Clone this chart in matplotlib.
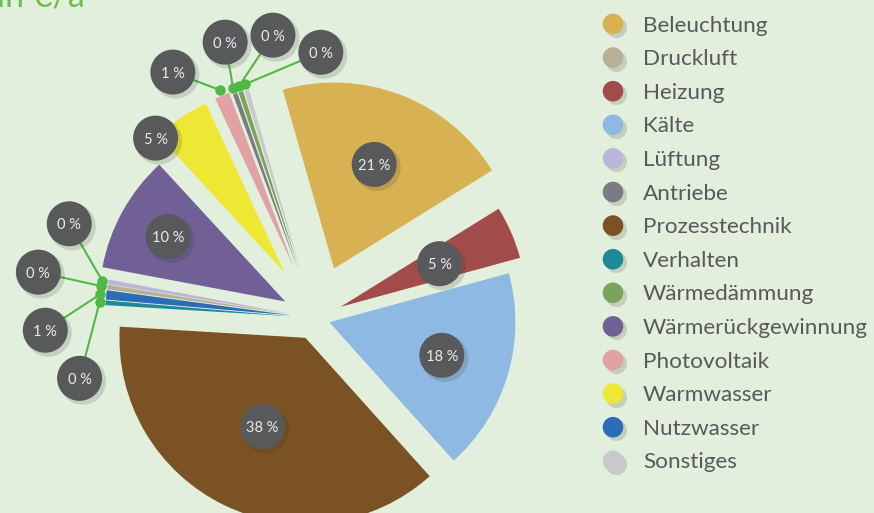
import numpy as np
import matplotlib.pyplot as plt
from matplotlib.patches import Circle

W, H = 874, 513

# legend order
categories = ["Beleuchtung", "Druckluft", "Heizung", "Kälte", "Lüftung", "Antriebe",
              "Prozesstechnik", "Verhalten", "Wärmedämmung", "Wärmerückgewinnung",
              "Photovoltaik", "Warmwasser", "Nutzwasser", "Sonstiges"]
shares = [20.6, 0.4, 4.6, 17.6, 0.4, 0.4, 37.6, 0.4, 0.4, 10.2, 1.3, 4.9, 0.8, 0.4]
colors = ["#d8b152", "#b9b195", "#a14c4b", "#8eb9e3", "#b9b6d9", "#7b7c83",
          "#7b5224", "#1f8a97", "#7aa45b", "#706096", "#e2a1a5", "#eee733",
          "#2b6cb9", "#c9c9cd"]

# order of the slices, clockwise from the top
pie_order = ["Beleuchtung", "Heizung", "Kälte", "Prozesstechnik", "Verhalten",
             "Nutzwasser", "Druckluft", "Lüftung", "Wärmerückgewinnung",
             "Warmwasser", "Photovoltaik", "Antriebe", "Wärmedämmung", "Sonstiges"]

bg = "#e3efdd"
green = "#4fb944"
badge_col = "#58595b"
text_col = "#58595b"

# how far each slice is pulled out (px)
explode_px = {"Beleuchtung": 53, "Heizung": 28, "Kälte": 15, "Prozesstechnik": 22,
              "Verhalten": 24, "Nutzwasser": 24, "Druckluft": 24, "Lüftung": 24,
              "Wärmerückgewinnung": 34, "Warmwasser": 55, "Photovoltaik": 55,
              "Antriebe": 52, "Wärmedämmung": 52, "Sonstiges": 52}
# labels sitting on the slice: radial fraction, angle shift
inside_label = {"Beleuchtung": (0.6, 0), "Heizung": (0.58, 0), "Kälte": (0.63, 0),
                "Prozesstechnik": (0.53, 0), "Wärmerückgewinnung": (0.72, 0),
                "Warmwasser": (1.0, 10)}
# labels outside with a leader line: offset of the badge from the dot (px)
callout_px = {"Photovoltaik": (-47, 18), "Antriebe": (-8, 46), "Wärmedämmung": (34, 51),
              "Sonstiges": (76, 32), "Lüftung": (-33, 57), "Druckluft": (-63, 14),
              "Nutzwasser": (-55, -36), "Verhalten": (-20, -76)}

R = 186.0
cx, cy = 315, 318   # pie centre, px from top left

vals = [shares[categories.index(n)] for n in pie_order]
cols = [colors[categories.index(n)] for n in pie_order]

fig = plt.figure(figsize=(W / 100, H / 100), dpi=100, facecolor=bg)
ax = fig.add_axes([0, 0, 1, 1])
wedges, _ = ax.pie(vals, colors=cols, startangle=106, counterclock=False,
                   explode=[explode_px[n] / R for n in pie_order],
                   wedgeprops=dict(linewidth=0))
ax.set_xlim(-cx / R, (W - cx) / R)
ax.set_ylim(-(H - cy) / R, cy / R)
ax.set_aspect('equal')
ax.axis('off')


def at(w, dist, shift=0):
    a = np.deg2rad((w.theta1 + w.theta2) / 2 + shift)
    return w.center[0] + dist * np.cos(a), w.center[1] + dist * np.sin(a)


def badge(x, y, value):
    ax.add_patch(Circle((x + 3 / R, y - 3 / R), 23.5 / R, fc="#2b3326", alpha=0.16,
                        lw=0, zorder=5))
    ax.add_patch(Circle((x, y), 22.5 / R, fc=badge_col, lw=0, zorder=6))
    ax.text(x, y - 5.5 / R, f"{round(value)} %", ha='center', va='baseline',
            fontsize=10.5, color="#ebebeb", family='Lato', zorder=7)


for name, w, v in zip(pie_order, wedges, vals):
    if name in inside_label:
        f, shift = inside_label[name]
        badge(*at(w, f, shift), v)
    else:
        dx, dy = callout_px[name]
        x0, y0 = at(w, 1 + 6 / R)
        x1, y1 = x0 + dx / R, y0 + dy / R
        ax.plot([x0, x1], [y0, y1], color=green, lw=1.5, zorder=3)
        ax.plot(x0, y0, 'o', color=green, ms=6.5, zorder=4)
        badge(x1, y1, v)

# legend and title fragment in pixel coordinates
lg = fig.add_axes([0, 0, 1, 1])
lg.set_xlim(0, W)
lg.set_ylim(H, 0)
lg.axis('off')
rows = 24 + 33.6 * np.arange(len(categories))
lg.scatter(np.full(len(rows), 616), rows + 3, s=230, color="#7d8577", alpha=0.3, lw=0)
lg.scatter(np.full(len(rows), 613), rows, s=220, c=colors, lw=0)
for y, name in zip(rows, categories):
    lg.text(643, y + 7.5, name, fontsize=16.2, color=text_col, family='Lato', va='baseline')
lg.text(-3, 7, "in €/a", fontsize=24.5, color="#6cbf4c", family='Lato', va='baseline')

fig.savefig("out.png", dpi=100, facecolor=bg)
